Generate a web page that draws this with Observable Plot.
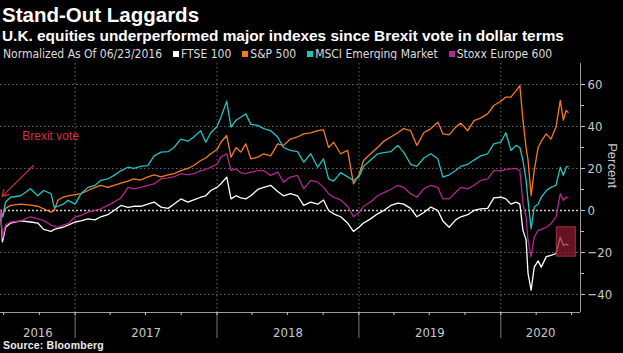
<!DOCTYPE html>
<html><head><meta charset="utf-8">
<script src="https://cdn.jsdelivr.net/npm/d3@7"></script>
<script src="https://cdn.jsdelivr.net/npm/@observablehq/plot@0.6"></script>
<style>
html,body{margin:0;padding:0;background:#000;}
body{width:623px;height:353px;position:relative;overflow:hidden;font-family:"Liberation Sans",Arial,sans-serif;color:#fff;}
#title{position:absolute;left:2px;top:3px;font-weight:bold;font-size:20.5px;line-height:24px;white-space:nowrap;}
#subtitle{position:absolute;left:2px;top:27px;font-weight:bold;font-size:15.4px;line-height:18px;white-space:nowrap;}
#legend{position:absolute;left:3px;top:47px;font-family:"Liberation Sans Narrow","DejaVu Sans Condensed",sans-serif;font-size:12px;line-height:14px;color:#ddd;display:flex;align-items:center;white-space:nowrap;}
#legend .item{display:flex;align-items:center;margin-left:11px;}
#legend .sw{display:inline-block;width:6px;height:6px;margin-right:2px;}
#chart{position:absolute;left:0;top:60px;}
#source{position:absolute;left:3px;top:339px;font-weight:bold;font-size:10.5px;line-height:12px;color:#eee;letter-spacing:0.2px;}
</style></head>
<body>
<div id="title"></div>
<div id="subtitle"></div>
<div id="legend"></div>
<div id="chart"></div>
<div id="source"></div>
<script>
const titleText = "Stand-Out Laggards";
const subtitleText = "U.K. equities underperformed major indexes since Brexit vote in dollar terms";
const legendNote = "Normalized As Of 06/23/2016";
const sourceText = "Source: Bloomberg";

const seriesNames = ["FTSE 100", "S&P 500", "MSCI Emerging Market", "Stoxx Europe 600"];
const seriesColors = ["#ffffff", "#f47b20", "#22c3c3", "#b3278f"];

const dates = ["2016-06-23","2016-06-28","2016-07-06","2016-07-19","2016-08-14","2016-09-08","2016-09-27","2016-10-12","2016-10-31","2016-11-08","2016-11-18","2016-12-01","2016-12-14",
"2017-01-01","2017-01-16","2017-02-03","2017-02-21","2017-03-08","2017-03-26","2017-04-11","2017-04-29","2017-05-17","2017-06-01","2017-06-19","2017-07-07","2017-07-23","2017-08-10","2017-08-28","2017-09-12","2017-09-30","2017-10-18","2017-11-02","2017-11-20","2017-12-03","2017-12-16",
"2018-01-01","2018-01-11","2018-01-26","2018-02-06","2018-02-19","2018-03-03","2018-03-16","2018-03-29","2018-04-16","2018-05-01","2018-05-19","2018-06-06","2018-06-21","2018-07-09","2018-07-27","2018-08-12","2018-08-30","2018-09-17","2018-10-02","2018-10-15","2018-10-28","2018-11-15","2018-12-03","2018-12-18",
"2019-01-01","2019-01-13","2019-01-31","2019-02-18","2019-03-06","2019-03-24","2019-04-11","2019-04-26","2019-05-14","2019-05-30","2019-06-17","2019-07-05","2019-07-23","2019-08-05","2019-08-21","2019-09-07","2019-09-20","2019-10-08","2019-10-24","2019-11-10","2019-11-28","2019-12-14",
"2020-01-01","2020-01-14","2020-01-27","2020-02-09","2020-02-19","2020-02-27","2020-03-06","2020-03-11","2020-03-19","2020-03-27","2020-04-06","2020-04-14","2020-04-27","2020-05-09","2020-05-22","2020-06-02","2020-06-10","2020-06-17","2020-06-22"];

const ftse = [0,-15,-8,-6,-5,-5.5,-6,-9,-10,-9,-8.5,-8,-7,
-5.5,-5,-4,-4.5,-3,-2,0,2.4,1.5,2,2,3,4,1.6,1,3,5.5,4,5,6.3,7,9.5,
11,12.7,15.9,5.5,7,6,5.5,7,10,11,12,9,7,8,7,2.4,4,3,5,0,-1.6,-3,-6,-10,
-8,-6,-4,-1.6,0,2.4,3.5,3,1,-3,-1,1.6,0,-5,-8,-4.5,-3,-2,0,0.8,1,6,
6.3,5.5,3,4,3,-9.5,-14,-30,-38,-27,-24,-27,-22,-21.4,-20.5,-12.7,-16.7,-16,-16.5];

const spx = [0,-3,1,2.4,3,2.5,2,0.8,-0.8,0,5,6.3,7,
7.5,8,9.5,11,12,11,12,13,14,15,14.5,16,17,16,17,17.5,19,20,21.4,23.8,25,27,
29,32.5,35.7,25.4,30,27.8,31.7,24.6,25.4,27,26,31.7,31,34,35,36.5,37,38,38.4,30,32.5,27,28.6,12.7,
17,23.8,27,30,33,35,37,39,38,31,37,39,42,36.5,36,39.7,41.6,38,42.8,44,46,50,
52,54,54,57,59.5,43,30,24,7,19,30,33,36.5,34,39.7,52.4,43,47.6,46.8];

const msci = [0,-3,4,6.3,7,10.3,7,9.5,8,1.6,2,3,4.8,
3,8,11,12,14.3,15,16.7,19,20.6,20,21,21.4,26,27.8,28,30,34,33,35,38,32.5,37,
40,44.4,52,39.7,43,44.4,46,41,40.5,39,38,35,30,28.6,28,23,27,20.6,24.6,15,14,18,16,14.3,
16,21,24,27,27.5,28,31,27.8,22,21,25,27,24.6,15.9,17,19,21,22,24,26,27,31.7,
32.5,37,28.6,31,30,23.8,14.3,4.8,-8.7,1.6,3,6.3,9.5,11,12,20.6,16.7,20.6,21];

const stoxx = [0,-13,-7,-5.5,-5,-3,-4,-4.8,-7,-7.5,-8,-7,-6.3,
-3,-2.4,-0.8,0,0.8,2.4,4,6,11,10.3,11,12,12.7,15,15.5,16,17.5,17,17.5,19,19.5,20.6,
22,25.4,27,19,19.8,18,17.5,18.3,19,19,16.7,18.3,13.5,15.9,16.7,10.3,14.3,13.5,11,8,6.3,5,2,-3,
-1,2,4,7,8.5,10,12,11,8,6.3,10.3,12,11,5.5,5.5,8.7,11,10.3,12,14.3,15,19,
19,19.5,19.8,20,19,3,-3,-14.3,-22,-12.7,-9.5,-9,-8,-6.3,-3,8,4.8,6.3,6];

const yTicks = [-40, -20, 0, 20, 40, 60];
const yMinorTicks = [-30, -10, 10, 30, 50];
const gridTicks = [-40, -20, 20, 40, 60];
const xDomain = ["2016-06-23", "2020-07-24"];
const yDomain = [-48.6, 70];
const yearStarts = ["2017-01-01", "2018-01-01", "2019-01-01", "2020-01-01"];
const yearLabels = ["2016", "2017", "2018", "2019", "2020"];
const axisTitle = "Percent";

const highlightBox = [{x1: "2020-05-24", x2: "2020-07-12", y1: -22, y2: -8}];
const arrowNote = [{x1: "2016-09-16", y1: 21.4, x2: "2016-06-27", y2: 6.7}];
const textNote = [{x: "2016-08-18", y: 35.2, text: "Brexit vote"}];

// header / footer
document.getElementById("title").textContent = titleText;
document.getElementById("subtitle").textContent = subtitleText;
document.getElementById("source").textContent = sourceText;
const legend = document.getElementById("legend");
const note = document.createElement("span"); note.textContent = legendNote; legend.appendChild(note);
seriesNames.forEach((n, i) => {
  const it = document.createElement("span"); it.className = "item";
  const sw = document.createElement("span"); sw.className = "sw"; sw.style.background = seriesColors[i];
  const tx = document.createElement("span"); tx.textContent = n;
  it.appendChild(sw); it.appendChild(tx); legend.appendChild(it);
});

const P = s => new Date(s + "T00:00:00Z");
const valueSets = [ftse, spx, msci, stoxx];
const rows = [];
seriesNames.forEach((name, s) => {
  dates.forEach((d, i) => rows.push({series: name, date: P(d), value: valueSets[s][i]}));
});

const xStart = P(xDomain[0]), xEnd = P(xDomain[1]);
const yearRows = yearLabels.map(label => {
  const a = new Date(Date.UTC(+label, 0, 1)), b = new Date(Date.UTC(+label + 1, 0, 1));
  const lo = a < xStart ? xStart : a, hi = b > xEnd ? xEnd : b;
  return {label, mid: new Date((+lo + +hi) / 2)};
});
const quarterTicks = d3.utcMonth.every(3).range(xStart, xEnd);
const box = highlightBox.map(d => ({...d, x1: P(d.x1), x2: P(d.x2)}));
const arrow = arrowNote.map(d => ({...d, x1: P(d.x1), x2: P(d.x2)}));
const notes = textNote.map(d => ({...d, x: P(d.x)}));

const dotted = {stroke: "#6a6a6a", strokeOpacity: 1, strokeDasharray: "1.5,2.5"};
const narrow = "'Liberation Sans Narrow', 'DejaVu Sans Condensed', sans-serif";

const chart = Plot.plot({
  width: 623, height: 289,
  marginTop: 3, marginBottom: 37, marginLeft: 0, marginRight: 43,
  style: {background: "#000", color: "#c8c8c8", fontFamily: "'Liberation Sans', Arial, sans-serif", fontSize: "11px", overflow: "visible"},
  x: {type: "utc", domain: [xStart, xEnd], axis: null},
  y: {domain: yDomain, axis: null},
  color: {domain: seriesNames, range: seriesColors},
  marks: [
    Plot.gridY(gridTicks, dotted),
    Plot.gridX(yearStarts.map(P), dotted),
    Plot.ruleY([0], {stroke: "#cfcfcf", strokeWidth: 1.5, strokeDasharray: "2,2"}),
    Plot.lineY(rows, {x: "date", y: "value", z: "series", stroke: "series", strokeWidth: 1.3}),
    Plot.rect(box, {x1: "x1", x2: "x2", y1: "y1", y2: "y2", fill: "#8a1b2c", fillOpacity: 0.72, stroke: "#a62a3c"}),
    Plot.arrow(arrow, {x1: "x1", y1: "y1", x2: "x2", y2: "y2", stroke: "#c8323f", strokeWidth: 1.2, headLength: 9}),
    Plot.text(notes, {x: "x", y: "y", text: "text", fill: "#d0323f", textAnchor: "start", fontSize: 12}),
    Plot.ruleX([xEnd], {stroke: "#9a9a9a"}),
    Plot.ruleY([yDomain[0]], {stroke: "#9a9a9a"}),
    Plot.axisY(yTicks, {anchor: "right", tickSize: 4, tickPadding: 3, label: null, fontSize: 13, fontFamily: narrow}),
    Plot.axisY(yMinorTicks, {anchor: "right", tickSize: 3, tickFormat: () => "", label: null}),
    Plot.axisX(quarterTicks, {anchor: "bottom", tickSize: 3, tickFormat: () => "", label: null}),
    Plot.axisX(yearStarts.map(P), {anchor: "bottom", tickSize: 26, strokeOpacity: 0.6, tickFormat: () => "", label: null}),
    Plot.text(yearRows, {x: "mid", text: "label", frameAnchor: "bottom", lineAnchor: "middle", dy: 20, fill: "#c8c8c8", fontSize: 13, fontFamily: narrow}),
    Plot.text([axisTitle], {text: d => d, frameAnchor: "right", dx: 32, rotate: 90, fill: "#c8c8c8", fontSize: 13})
  ]
});
document.getElementById("chart").appendChild(chart);
</script>
</body></html>
